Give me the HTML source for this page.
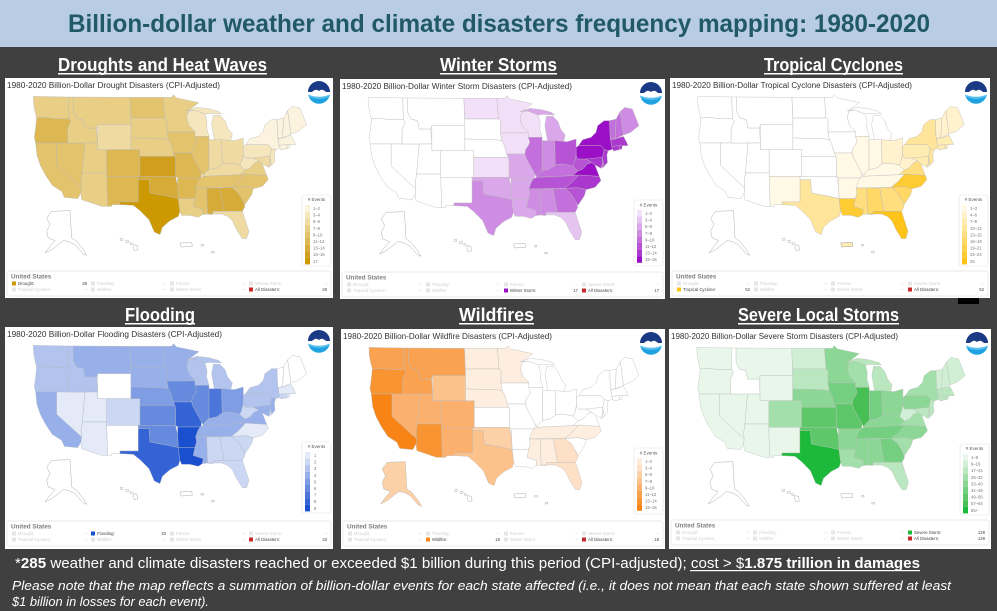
<!DOCTYPE html>
<html><head><meta charset="utf-8"><style>
html,body{margin:0;padding:0;background:#404040;}
svg{display:block;}
text{font-family:"Liberation Sans",Arial,sans-serif;}
</style></head><body>
<svg width="997" height="611" viewBox="0 0 997 611" xmlns="http://www.w3.org/2000/svg">
<defs>
<path id="WA" d="M85,55 L190,57 L192,122 L150,122 L120,118 L95,120 L90,100 L86,80 Z"/>
<path id="OR" d="M95,120 L120,118 L150,122 L192,122 L198,130 L188,150 L188,195 L92,195 L88,178 L92,150 Z"/>
<path id="CA" d="M92,195 L155,195 L155,262 L230,330 L228,345 L218,362 L178,358 L170,340 L142,322 L122,292 L106,262 L96,232 Z"/>
<path id="NV" d="M155,195 L240,195 L232,285 L228,312 L230,330 L155,262 Z"/>
<path id="ID" d="M190,57 L205,57 L205,100 L215,120 L235,125 L240,150 L275,150 L278,195 L188,195 L188,150 L198,130 L192,122 Z"/>
<path id="MT" d="M205,57 L375,58 L378,140 L278,140 L275,150 L240,150 L235,125 L215,120 L205,100 Z"/>
<path id="WY" d="M278,140 L378,140 L378,215 L278,215 Z"/>
<path id="UT" d="M240,195 L278,195 L278,215 L305,215 L305,285 L232,285 Z"/>
<path id="AZ" d="M232,285 L305,285 L308,385 L290,385 L230,365 L228,345 L230,330 L228,312 Z"/>
<path id="CO" d="M305,215 L405,215 L405,295 L305,295 Z"/>
<path id="NM" d="M305,295 L400,295 L400,372 L345,372 L345,380 L320,380 L320,385 L308,385 Z"/>
<path id="ND" d="M375,58 L475,58 L480,120 L378,120 Z"/>
<path id="SD" d="M378,120 L480,120 L486,125 L486,162 L490,185 L470,182 L378,180 Z"/>
<path id="NE" d="M378,180 L470,182 L490,185 L498,200 L505,225 L510,235 L405,235 L405,215 L378,215 Z"/>
<path id="KS" d="M405,235 L510,235 L512,245 L512,295 L405,295 Z"/>
<path id="OK" d="M400,295 L512,295 L515,310 L518,320 L520,362 L490,355 L460,350 L435,345 L432,305 L400,305 Z"/>
<path id="TX" d="M400,305 L432,305 L435,345 L460,350 L490,355 L520,362 L522,380 L525,400 L520,415 L495,428 L472,448 L465,470 L448,462 L432,425 L405,398 L385,382 L345,380 L345,372 L400,372 Z"/>
<path id="MN" d="M475,58 L500,58 L505,50 L515,60 L545,66 L582,74 L552,96 L545,118 L552,142 L570,160 L570,162 L486,162 L486,125 L480,120 Z"/>
<path id="IA" d="M486,162 L570,162 L575,175 L575,190 L570,200 L562,212 L560,225 L505,225 L498,200 L490,185 Z"/>
<path id="MO" d="M505,225 L560,225 L565,240 L575,258 L590,285 L588,300 L518,300 L512,295 L512,245 L510,235 Z"/>
<path id="AR" d="M518,300 L588,300 L582,318 L575,345 L570,362 L520,362 L518,320 Z"/>
<path id="LA" d="M520,362 L570,362 L565,385 L595,395 L592,410 L580,418 L555,412 L530,412 L525,400 L522,380 Z"/>
<path id="WI" d="M545,118 L550,100 L568,96 L600,108 L606,130 L605,150 L612,175 L570,175 L570,160 L552,142 Z"/>
<path id="MIU" d="M545,98 L575,88 L610,92 L640,100 L650,108 L615,106 L600,108 L568,96 Z"/>
<path id="MIL" d="M625,112 L645,112 L660,128 L668,150 L682,168 L678,185 L662,192 L630,195 L625,168 L620,140 Z"/>
<path id="IL" d="M570,175 L612,175 L612,275 L600,285 L595,295 L590,285 L575,258 L565,240 L560,225 L562,212 L570,200 L575,190 Z"/>
<path id="IN" d="M612,185 L650,185 L652,258 L635,270 L612,275 Z"/>
<path id="OH" d="M650,185 L688,188 L715,180 L715,230 L710,250 L705,262 L690,258 L670,255 L652,258 Z"/>
<path id="KY" d="M595,295 L600,285 L612,275 L635,270 L652,258 L670,255 L690,258 L705,262 L720,276 L705,290 Z"/>
<path id="TN" d="M585,300 L595,295 L705,290 L722,288 L700,312 L690,320 L680,328 L572,330 L578,312 Z"/>
<path id="MS" d="M572,330 L605,330 L608,408 L592,410 L595,395 L565,385 L570,362 L575,345 Z"/>
<path id="AL" d="M605,330 L645,330 L650,360 L658,400 L625,400 L622,410 L608,408 Z"/>
<path id="GA" d="M645,330 L680,328 L700,345 L715,370 L720,385 L712,400 L658,400 L650,360 Z"/>
<path id="FL" d="M608,408 L622,410 L625,400 L658,400 L712,400 L722,430 L732,460 L725,482 L712,482 L695,455 L682,428 L668,415 L650,408 Z"/>
<path id="SC" d="M680,328 L720,326 L745,332 L740,350 L720,380 L715,370 L700,345 Z"/>
<path id="NC" d="M722,288 L785,292 L790,305 L772,325 L745,332 L720,326 L680,328 L690,320 L700,312 Z"/>
<path id="VA" d="M705,290 L720,276 L735,270 L748,255 L762,250 L772,258 L785,292 L722,288 Z"/>
<path id="WV" d="M705,262 L710,250 L715,230 L720,240 L745,240 L762,250 L748,255 L735,270 L720,276 Z"/>
<path id="PA" d="M715,205 L722,200 L790,200 L800,212 L795,235 L760,240 L745,240 L720,240 L715,230 Z"/>
<path id="NY" d="M722,200 L735,182 L760,175 L775,160 L780,140 L800,125 L816,125 L818,175 L822,200 L828,210 L812,215 L800,212 L790,200 Z"/>
<path id="NJ" d="M800,212 L812,215 L808,228 L810,250 L800,262 L795,240 L795,235 Z"/>
<path id="MD" d="M745,240 L795,235 L795,252 L790,268 L780,262 L772,258 L762,250 Z"/>
<path id="DE" d="M795,240 L800,262 L792,268 L795,252 Z"/>
<path id="VT" d="M816,125 L836,120 L833,178 L820,182 L818,175 Z"/>
<path id="NH" d="M836,120 L848,98 L858,168 L833,180 Z"/>
<path id="ME" d="M848,98 L862,85 L885,90 L905,140 L880,160 L858,168 Z"/>
<path id="MA" d="M820,182 L833,180 L858,172 L868,190 L872,200 L855,200 L822,202 Z"/>
<path id="CT" d="M822,202 L845,200 L847,212 L828,216 Z"/>
<path id="RI" d="M845,200 L855,200 L853,210 L847,212 Z"/>
<path id="AK" d="M140,400 L195,398 L200,480 L215,490 L235,515 L245,532 L235,528 L210,500 L190,490 L175,488 L160,500 L140,515 L120,525 L135,505 L150,488 L130,480 L125,460 L135,440 L125,420 Z"/>
<g id="EXT" fill="#fff">
<path d="M345,482 L352,480 L354,486 L347,488 Z"/>
<path d="M362,488 L370,487 L371,493 L363,494 Z"/>
<path d="M375,494 L382,495 L381,500 L375,499 Z"/>
<path d="M385,500 L396,502 L398,516 L388,518 L384,510 Z"/>
<path d="M525,495 L560,493 L562,505 L528,507 Z"/>
<path d="M588,500 L596,500 L596,504 L588,504 Z"/>
<path d="M620,520 L628,520 L628,525 L620,525 Z"/>
</g>
<g id="noaa">
<circle r="11" fill="#fff"/>
<path d="M-11,-1 A11,11 0 0 1 11,-1 L7,-1 Q3,-5 0,-2 Q-3,-5 -7,-1 Z" fill="#1b3a86"/>
<path d="M-10.5,3 Q0,8 10.5,3 A11,11 0 0 1 -10.5,3 Z" fill="#1ea2e2"/>
<path d="M-10.8,1.5 Q0,6 10.8,1.5 L10.6,3.2 Q0,8.5 -10.6,3.2 Z" fill="#58bfee"/>
</g>
</defs>

<!-- title bar -->
<rect x="0" y="0" width="997" height="47" fill="#b8cce4"/>
<text x="68" y="32" font-size="25" font-weight="bold" fill="#215968" textLength="862" lengthAdjust="spacingAndGlyphs">Billion-dollar weather and climate disasters frequency mapping: 1980-2020</text>

<!-- panel titles -->
<g fill="#fff" font-weight="bold" font-size="18">
<text x="58" y="71" textLength="209" lengthAdjust="spacingAndGlyphs">Droughts and Heat Waves</text>
<rect x="58" y="73" width="209" height="1.5"/>
<text x="440" y="71" textLength="117" lengthAdjust="spacingAndGlyphs">Winter Storms</text>
<rect x="440" y="73" width="117" height="1.5"/>
<text x="764" y="71" textLength="139" lengthAdjust="spacingAndGlyphs">Tropical Cyclones</text>
<rect x="764" y="73" width="139" height="1.5"/>
<text x="125" y="321" textLength="70" lengthAdjust="spacingAndGlyphs">Flooding</text>
<rect x="125" y="323" width="70" height="1.5"/>
<text x="459" y="321" textLength="75" lengthAdjust="spacingAndGlyphs">Wildfires</text>
<rect x="459" y="323" width="75" height="1.5"/>
<text x="738" y="321" textLength="161" lengthAdjust="spacingAndGlyphs">Severe Local Storms</text>
<rect x="738" y="323" width="161" height="1.5"/>
</g>

<rect x="958" y="298" width="21" height="6" fill="#000"/>

<!-- ============ PANEL 1: DROUGHT ============ -->
<g transform="translate(5,78)">
<rect x="0" y="0" width="328" height="220" fill="#fff"/>
<text x="2" y="10" font-size="8" fill="#333" textLength="213" lengthAdjust="spacingAndGlyphs">1980-2020 Billion-Dollar Drought Disasters (CPI-Adjusted)</text>
<use href="#noaa" x="314" y="15"/>
<g transform="scale(0.3333)" stroke="#b9b9b9" stroke-width="1.2">
<use href="#WA" fill="#e9cf86"/><use href="#OR" fill="#ddb752"/><use href="#CA" fill="#e3c36c"/><use href="#NV" fill="#e3c36c"/>
<use href="#ID" fill="#e9cf86"/><use href="#MT" fill="#e9cf86"/><use href="#WY" fill="#efdba2"/><use href="#UT" fill="#e9cf86"/>
<use href="#AZ" fill="#e9cf86"/><use href="#CO" fill="#ddb752"/><use href="#NM" fill="#ddb752"/><use href="#ND" fill="#e3c36c"/>
<use href="#SD" fill="#e9cf86"/><use href="#NE" fill="#e9cf86"/><use href="#KS" fill="#d19f1e"/><use href="#OK" fill="#d7ab38"/>
<use href="#TX" fill="#cc9900"/><use href="#MN" fill="#e9cf86"/><use href="#IA" fill="#e3c36c"/><use href="#MO" fill="#ddb752"/>
<use href="#AR" fill="#ddb752"/><use href="#LA" fill="#e9cf86"/><use href="#WI" fill="#f5e6bd"/><use href="#MIU" fill="#f5e6bd"/>
<use href="#MIL" fill="#f5e6bd"/><use href="#IL" fill="#e3c36c"/><use href="#IN" fill="#efdba2"/><use href="#OH" fill="#efdba2"/>
<use href="#KY" fill="#efdba2"/><use href="#TN" fill="#e3c36c"/><use href="#MS" fill="#e3c36c"/><use href="#AL" fill="#d7ab38"/>
<use href="#GA" fill="#d7ab38"/><use href="#FL" fill="#efdba2"/><use href="#SC" fill="#e3c36c"/><use href="#NC" fill="#e3c36c"/>
<use href="#VA" fill="#e9cf86"/><use href="#WV" fill="#f5e6bd"/><use href="#PA" fill="#f5e6bd"/><use href="#NY" fill="#fbf3de"/>
<use href="#NJ" fill="#f5e6bd"/><use href="#MD" fill="#efdba2"/><use href="#DE" fill="#f5e6bd"/><use href="#VT" fill="#fbf3de"/>
<use href="#NH" fill="#fbf3de"/><use href="#ME" fill="#fbf3de"/><use href="#MA" fill="#fbf3de"/><use href="#CT" fill="#fbf3de"/><use href="#RI" fill="#fbf3de"/>
<use href="#AK" fill="#fff" stroke="#999"/><use href="#EXT" stroke="#999"/>
</g>
<g>
<rect x="297" y="117" width="29" height="71" rx="2" fill="#fff" stroke="#e2e2e2" stroke-width="0.6"/>
<text x="311.5" y="123" font-size="4.5" fill="#555" text-anchor="middle"># Events</text>
<rect x="300" y="127" width="5" height="6.6" fill="#fbf3de"/><rect x="300" y="133.6" width="5" height="6.6" fill="#f5e6bd"/>
<rect x="300" y="140.2" width="5" height="6.6" fill="#efdba2"/><rect x="300" y="146.8" width="5" height="6.6" fill="#e9cf86"/>
<rect x="300" y="153.4" width="5" height="6.6" fill="#e3c36c"/><rect x="300" y="160" width="5" height="6.6" fill="#ddb752"/>
<rect x="300" y="166.6" width="5" height="6.6" fill="#d7ab38"/><rect x="300" y="173.2" width="5" height="6.6" fill="#d19f1e"/>
<rect x="300" y="179.8" width="5" height="6.6" fill="#cc9900"/>
<g font-size="4.2" fill="#777">
<text x="308" y="132">1–2</text><text x="308" y="138.6">3–4</text><text x="308" y="145.2">5–6</text><text x="308" y="151.8">7–8</text>
<text x="308" y="158.4">9–10</text><text x="308" y="165">11–12</text><text x="308" y="171.6">13–14</text><text x="308" y="178.2">15–16</text><text x="308" y="184.8">17</text>
</g>
</g>
<rect x="2" y="193" width="324" height="25" rx="2" fill="#fff" stroke="#e4e4e4" stroke-width="0.7"/>
<text x="6" y="200.5" font-size="6.3" font-weight="bold" fill="#808080">United States</text>
<g font-size="4.3">
<rect x="7" y="203.5" width="4" height="4" fill="#cc9900"/><text x="13" y="207" fill="#444">Drought:</text><text x="82" y="207" fill="#444" text-anchor="end">28</text>
<rect x="86" y="203.5" width="4" height="4" fill="#e6e6e6"/><text x="92" y="207" fill="#cfcfcf">Flooding:</text><text x="161" y="207" fill="#bbb" text-anchor="end">--</text>
<rect x="165" y="203.5" width="4" height="4" fill="#e6e6e6"/><text x="171" y="207" fill="#cfcfcf">Freeze:</text><text x="240" y="207" fill="#bbb" text-anchor="end">--</text>
<rect x="244" y="203.5" width="4" height="4" fill="#e6e6e6"/><text x="250" y="207" fill="#cfcfcf">Severe Storm:</text><text x="322" y="207" fill="#bbb" text-anchor="end">--</text>
<rect x="7" y="209.5" width="4" height="4" fill="#e6e6e6"/><text x="13" y="213" fill="#cfcfcf">Tropical Cyclone:</text><text x="82" y="213" fill="#bbb" text-anchor="end">--</text>
<rect x="86" y="209.5" width="4" height="4" fill="#e6e6e6"/><text x="92" y="213" fill="#cfcfcf">Wildfire:</text><text x="161" y="213" fill="#bbb" text-anchor="end">--</text>
<rect x="165" y="209.5" width="4" height="4" fill="#e6e6e6"/><text x="171" y="213" fill="#cfcfcf">Winter Storm:</text><text x="240" y="213" fill="#bbb" text-anchor="end">--</text>
<rect x="244" y="209.5" width="4" height="4" fill="#c62828"/><text x="250" y="213" fill="#444">All Disasters:</text><text x="322" y="213" fill="#444" text-anchor="end">28</text>
</g>
</g>

<!-- ============ PANEL 2: WINTER ============ -->
<g transform="translate(340,79)">
<rect x="0" y="0" width="325" height="220" fill="#fff"/>
<text x="2" y="10" font-size="8" fill="#333" textLength="230" lengthAdjust="spacingAndGlyphs">1980-2020 Billion-Dollar Winter Storm Disasters (CPI-Adjusted)</text>
<use href="#noaa" x="311" y="15"/>
<g transform="scale(0.3303,0.3333)" stroke="#b9b9b9" stroke-width="1.2">
<use href="#WA" fill="#fff"/><use href="#OR" fill="#fff"/><use href="#CA" fill="#fff"/><use href="#NV" fill="#fff"/>
<use href="#ID" fill="#fff"/><use href="#MT" fill="#fff"/><use href="#WY" fill="#fff"/><use href="#UT" fill="#fff"/>
<use href="#AZ" fill="#fff"/><use href="#CO" fill="#fff"/><use href="#NM" fill="#fff"/><use href="#ND" fill="#f2e0f8"/>
<use href="#SD" fill="#fff"/><use href="#NE" fill="#fff"/><use href="#KS" fill="#f2e0f8"/><use href="#OK" fill="#daa8ea"/>
<use href="#TX" fill="#cf8ce3"/><use href="#MN" fill="#f2e0f8"/><use href="#IA" fill="#f2e0f8"/><use href="#MO" fill="#daa8ea"/>
<use href="#AR" fill="#daa8ea"/><use href="#LA" fill="#daa8ea"/><use href="#WI" fill="#f2e0f8"/><use href="#MIU" fill="#daa8ea"/>
<use href="#MIL" fill="#daa8ea"/><use href="#IL" fill="#c370dc"/><use href="#IN" fill="#cf8ce3"/><use href="#OH" fill="#b754d5"/>
<use href="#KY" fill="#c370dc"/><use href="#TN" fill="#b754d5"/><use href="#MS" fill="#cf8ce3"/><use href="#AL" fill="#cf8ce3"/>
<use href="#GA" fill="#c370dc"/><use href="#FL" fill="#e6c4f1"/><use href="#SC" fill="#b754d5"/><use href="#NC" fill="#ab38ce"/>
<use href="#VA" fill="#9b10c6"/><use href="#WV" fill="#b754d5"/><use href="#PA" fill="#9b10c6"/><use href="#NY" fill="#9b10c6"/>
<use href="#NJ" fill="#ab38ce"/><use href="#MD" fill="#ab38ce"/><use href="#DE" fill="#b754d5"/><use href="#VT" fill="#c370dc"/>
<use href="#NH" fill="#c370dc"/><use href="#ME" fill="#cf8ce3"/><use href="#MA" fill="#ab38ce"/><use href="#CT" fill="#ab38ce"/><use href="#RI" fill="#ab38ce"/>
<use href="#AK" fill="#fff" stroke="#999"/><use href="#EXT" stroke="#999"/>
</g>
<g>
<rect x="294" y="121" width="29" height="66" rx="2" fill="#fff" stroke="#e2e2e2" stroke-width="0.6"/>
<text x="308.5" y="127.5" font-size="4.5" fill="#555" text-anchor="middle"># Events</text>
<rect x="297" y="131" width="5" height="6.6" fill="#f2e0f8"/><rect x="297" y="137.6" width="5" height="6.6" fill="#e6c4f1"/>
<rect x="297" y="144.2" width="5" height="6.6" fill="#daa8ea"/><rect x="297" y="150.8" width="5" height="6.6" fill="#cf8ce3"/>
<rect x="297" y="157.4" width="5" height="6.6" fill="#c370dc"/><rect x="297" y="164" width="5" height="6.6" fill="#b754d5"/>
<rect x="297" y="170.6" width="5" height="6.6" fill="#ab38ce"/><rect x="297" y="177.2" width="5" height="6.6" fill="#9b10c6"/>
<g font-size="4.2" fill="#777">
<text x="305" y="136">1–2</text><text x="305" y="142.6">3–4</text><text x="305" y="149.2">5–6</text><text x="305" y="155.8">7–8</text>
<text x="305" y="162.4">9–10</text><text x="305" y="169">11–12</text><text x="305" y="175.6">13–14</text><text x="305" y="182.2">15–16</text>
</g>
</g>
<rect x="2" y="193" width="321" height="25" rx="2" fill="#fff" stroke="#e4e4e4" stroke-width="0.7"/>
<text x="6" y="200.5" font-size="6.3" font-weight="bold" fill="#808080">United States</text>
<g font-size="4.3">
<rect x="7" y="203.5" width="4" height="4" fill="#e6e6e6"/><text x="13" y="207" fill="#cfcfcf">Drought:</text><text x="82" y="207" fill="#bbb" text-anchor="end">--</text>
<rect x="86" y="203.5" width="4" height="4" fill="#e6e6e6"/><text x="92" y="207" fill="#cfcfcf">Flooding:</text><text x="160" y="207" fill="#bbb" text-anchor="end">--</text>
<rect x="164" y="203.5" width="4" height="4" fill="#e6e6e6"/><text x="170" y="207" fill="#cfcfcf">Freeze:</text><text x="238" y="207" fill="#bbb" text-anchor="end">--</text>
<rect x="242" y="203.5" width="4" height="4" fill="#e6e6e6"/><text x="248" y="207" fill="#cfcfcf">Severe Storm:</text><text x="319" y="207" fill="#bbb" text-anchor="end">--</text>
<rect x="7" y="209.5" width="4" height="4" fill="#e6e6e6"/><text x="13" y="213" fill="#cfcfcf">Tropical Cyclone:</text><text x="82" y="213" fill="#bbb" text-anchor="end">--</text>
<rect x="86" y="209.5" width="4" height="4" fill="#e6e6e6"/><text x="92" y="213" fill="#cfcfcf">Wildfire:</text><text x="160" y="213" fill="#bbb" text-anchor="end">--</text>
<rect x="164" y="209.5" width="4" height="4" fill="#9b10c6"/><text x="170" y="213" fill="#444">Winter Storm:</text><text x="238" y="213" fill="#444" text-anchor="end">17</text>
<rect x="242" y="209.5" width="4" height="4" fill="#c62828"/><text x="248" y="213" fill="#444">All Disasters:</text><text x="319" y="213" fill="#444" text-anchor="end">17</text>
</g>
</g>

<!-- ============ PANEL 3: TROPICAL ============ -->
<g transform="translate(670,78)">
<rect x="0" y="0" width="320" height="220" fill="#fff"/>
<text x="2" y="10" font-size="8" fill="#333" textLength="240" lengthAdjust="spacingAndGlyphs">1980-2020 Billion-Dollar Tropical Cyclone Disasters (CPI-Adjusted)</text>
<use href="#noaa" x="306" y="15"/>
<g transform="scale(0.3252,0.3333)" stroke="#b9b9b9" stroke-width="1.2">
<use href="#WA" fill="#fff"/><use href="#OR" fill="#fff"/><use href="#CA" fill="#fff"/><use href="#NV" fill="#fff"/>
<use href="#ID" fill="#fff"/><use href="#MT" fill="#fff"/><use href="#WY" fill="#fff"/><use href="#UT" fill="#fff"/>
<use href="#AZ" fill="#fff"/><use href="#CO" fill="#fff"/><use href="#NM" fill="#fff9e6"/><use href="#ND" fill="#fff"/>
<use href="#SD" fill="#fff"/><use href="#NE" fill="#fff"/><use href="#KS" fill="#fff"/><use href="#OK" fill="#fff"/>
<use href="#TX" fill="#ffe599"/><use href="#MN" fill="#fff"/><use href="#IA" fill="#fff"/><use href="#MO" fill="#fff9e6"/>
<use href="#AR" fill="#fff9e6"/><use href="#LA" fill="#ffcb33"/><use href="#WI" fill="#fff"/><use href="#MIU" fill="#fff"/>
<use href="#MIL" fill="#fff"/><use href="#IL" fill="#fff9e6"/><use href="#IN" fill="#fff9e6"/><use href="#OH" fill="#fff2cc"/>
<use href="#KY" fill="#fff9e6"/><use href="#TN" fill="#fff9e6"/><use href="#MS" fill="#ffde80"/><use href="#AL" fill="#ffd866"/>
<use href="#GA" fill="#ffde80"/><use href="#FL" fill="#ffc41a"/><use href="#SC" fill="#ffd866"/><use href="#NC" fill="#ffcb33"/>
<use href="#VA" fill="#ffde80"/><use href="#WV" fill="#fff2cc"/><use href="#PA" fill="#ffecb3"/><use href="#NY" fill="#ffe599"/>
<use href="#NJ" fill="#ffe599"/><use href="#MD" fill="#ffecb3"/><use href="#DE" fill="#ffecb3"/><use href="#VT" fill="#fff2cc"/>
<use href="#NH" fill="#fff2cc"/><use href="#ME" fill="#fff2cc"/><use href="#MA" fill="#ffecb3"/><use href="#CT" fill="#ffecb3"/><use href="#RI" fill="#ffecb3"/>
<use href="#AK" fill="#fff" stroke="#999"/><use href="#EXT" stroke="#999"/>
<path d="M525,495 L560,493 L562,505 L528,507 Z" fill="#ffecb3" stroke="#999"/>
</g>
<g>
<rect x="289" y="117" width="29" height="71" rx="2" fill="#fff" stroke="#e2e2e2" stroke-width="0.6"/>
<text x="303.5" y="123" font-size="4.5" fill="#555" text-anchor="middle"># Events</text>
<rect x="292" y="127" width="5" height="6.6" fill="#fff9e6"/><rect x="292" y="133.6" width="5" height="6.6" fill="#fff2cc"/>
<rect x="292" y="140.2" width="5" height="6.6" fill="#ffecb3"/><rect x="292" y="146.8" width="5" height="6.6" fill="#ffe599"/>
<rect x="292" y="153.4" width="5" height="6.6" fill="#ffde80"/><rect x="292" y="160" width="5" height="6.6" fill="#ffd866"/>
<rect x="292" y="166.6" width="5" height="6.6" fill="#ffd14d"/><rect x="292" y="173.2" width="5" height="6.6" fill="#ffcb33"/>
<rect x="292" y="179.8" width="5" height="6.6" fill="#ffc41a"/>
<g font-size="4.2" fill="#777">
<text x="300" y="132">1–3</text><text x="300" y="138.6">4–6</text><text x="300" y="145.2">7–9</text><text x="300" y="151.8">10–12</text>
<text x="300" y="158.4">13–15</text><text x="300" y="165">16–18</text><text x="300" y="171.6">19–21</text><text x="300" y="178.2">22–24</text><text x="300" y="184.8">25</text>
</g>
</g>
<rect x="2" y="193" width="316" height="25" rx="2" fill="#fff" stroke="#e4e4e4" stroke-width="0.7"/>
<text x="6" y="200.5" font-size="6.3" font-weight="bold" fill="#808080">United States</text>
<g font-size="4.3">
<rect x="7" y="203.5" width="4" height="4" fill="#e6e6e6"/><text x="13" y="207" fill="#cfcfcf">Drought:</text><text x="80" y="207" fill="#bbb" text-anchor="end">--</text>
<rect x="84" y="203.5" width="4" height="4" fill="#e6e6e6"/><text x="90" y="207" fill="#cfcfcf">Flooding:</text><text x="157" y="207" fill="#bbb" text-anchor="end">--</text>
<rect x="161" y="203.5" width="4" height="4" fill="#e6e6e6"/><text x="167" y="207" fill="#cfcfcf">Freeze:</text><text x="234" y="207" fill="#bbb" text-anchor="end">--</text>
<rect x="238" y="203.5" width="4" height="4" fill="#e6e6e6"/><text x="244" y="207" fill="#cfcfcf">Severe Storm:</text><text x="314" y="207" fill="#bbb" text-anchor="end">--</text>
<rect x="7" y="209.5" width="4" height="4" fill="#ffc41a"/><text x="13" y="213" fill="#444">Tropical Cyclone:</text><text x="80" y="213" fill="#444" text-anchor="end">52</text>
<rect x="84" y="209.5" width="4" height="4" fill="#e6e6e6"/><text x="90" y="213" fill="#cfcfcf">Wildfire:</text><text x="157" y="213" fill="#bbb" text-anchor="end">--</text>
<rect x="161" y="209.5" width="4" height="4" fill="#e6e6e6"/><text x="167" y="213" fill="#cfcfcf">Winter Storm:</text><text x="234" y="213" fill="#bbb" text-anchor="end">--</text>
<rect x="238" y="209.5" width="4" height="4" fill="#c62828"/><text x="244" y="213" fill="#444">All Disasters:</text><text x="314" y="213" fill="#444" text-anchor="end">52</text>
</g>
</g>

<!-- ============ PANEL 4: FLOODING ============ -->
<g transform="translate(5,327)">
<rect x="0" y="0" width="328" height="222" fill="#fff"/>
<text x="2" y="10" font-size="8" fill="#333" textLength="215" lengthAdjust="spacingAndGlyphs">1980-2020 Billion-Dollar Flooding Disasters (CPI-Adjusted)</text>
<use href="#noaa" x="314" y="15"/>
<g transform="scale(0.3333)" stroke="#b0b6c4" stroke-width="1.2">
<use href="#WA" fill="#b2c4ee"/><use href="#OR" fill="#b2c4ee"/><use href="#CA" fill="#98b0e9"/><use href="#NV" fill="#e4eaf8"/>
<use href="#ID" fill="#b2c4ee"/><use href="#MT" fill="#98b0e9"/><use href="#WY" fill="#fff"/><use href="#UT" fill="#e4eaf8"/>
<use href="#AZ" fill="#e4eaf8"/><use href="#CO" fill="#cbd7f3"/><use href="#NM" fill="#fff"/><use href="#ND" fill="#98b0e9"/>
<use href="#SD" fill="#98b0e9"/><use href="#NE" fill="#7f9de4"/><use href="#KS" fill="#668ade"/><use href="#OK" fill="#668ade"/>
<use href="#TX" fill="#3363d4"/><use href="#MN" fill="#98b0e9"/><use href="#IA" fill="#668ade"/><use href="#MO" fill="#3363d4"/>
<use href="#AR" fill="#1a50cf"/><use href="#LA" fill="#1a50cf"/><use href="#WI" fill="#b2c4ee"/><use href="#MIU" fill="#b2c4ee"/>
<use href="#MIL" fill="#b2c4ee"/><use href="#IL" fill="#668ade"/><use href="#IN" fill="#4c76d9"/><use href="#OH" fill="#7f9de4"/>
<use href="#KY" fill="#98b0e9"/><use href="#TN" fill="#98b0e9"/><use href="#MS" fill="#98b0e9"/><use href="#AL" fill="#cbd7f3"/>
<use href="#GA" fill="#cbd7f3"/><use href="#FL" fill="#cbd7f3"/><use href="#SC" fill="#cbd7f3"/><use href="#NC" fill="#e4eaf8"/>
<use href="#VA" fill="#98b0e9"/><use href="#WV" fill="#cbd7f3"/><use href="#PA" fill="#b2c4ee"/><use href="#NY" fill="#b2c4ee"/>
<use href="#NJ" fill="#98b0e9"/><use href="#MD" fill="#98b0e9"/><use href="#DE" fill="#cbd7f3"/><use href="#VT" fill="#fff"/>
<use href="#NH" fill="#fff"/><use href="#ME" fill="#fff"/><use href="#MA" fill="#e4eaf8"/><use href="#CT" fill="#cbd7f3"/><use href="#RI" fill="#e4eaf8"/>
<use href="#AK" fill="#fff" stroke="#999"/><use href="#EXT" stroke="#999"/>
</g>
<g>
<rect x="297" y="115" width="29" height="71" rx="2" fill="#fff" stroke="#e2e2e2" stroke-width="0.6"/>
<text x="311.5" y="121" font-size="4.5" fill="#555" text-anchor="middle"># Events</text>
<rect x="300" y="125" width="5" height="6.6" fill="#e4eaf8"/><rect x="300" y="131.6" width="5" height="6.6" fill="#cbd7f3"/>
<rect x="300" y="138.2" width="5" height="6.6" fill="#b2c4ee"/><rect x="300" y="144.8" width="5" height="6.6" fill="#98b0e9"/>
<rect x="300" y="151.4" width="5" height="6.6" fill="#7f9de4"/><rect x="300" y="158" width="5" height="6.6" fill="#668ade"/>
<rect x="300" y="164.6" width="5" height="6.6" fill="#4c76d9"/><rect x="300" y="171.2" width="5" height="6.6" fill="#3363d4"/>
<rect x="300" y="177.8" width="5" height="6.6" fill="#1a50cf"/>
<g font-size="4.2" fill="#777">
<text x="309" y="130">1</text><text x="309" y="136.6">2</text><text x="309" y="143.2">3</text><text x="309" y="149.8">4</text>
<text x="309" y="156.4">5</text><text x="309" y="163">6</text><text x="309" y="169.6">7</text><text x="309" y="176.2">8</text><text x="309" y="182.8">9</text>
</g>
</g>
<rect x="2" y="194" width="324" height="25" rx="2" fill="#fff" stroke="#e4e4e4" stroke-width="0.7"/>
<text x="6" y="201.5" font-size="6.3" font-weight="bold" fill="#808080">United States</text>
<g font-size="4.3">
<rect x="7" y="204.5" width="4" height="4" fill="#e6e6e6"/><text x="13" y="208" fill="#cfcfcf">Drought:</text><text x="82" y="208" fill="#bbb" text-anchor="end">--</text>
<rect x="86" y="204.5" width="4" height="4" fill="#1a50cf"/><text x="92" y="208" fill="#444">Flooding:</text><text x="161" y="208" fill="#444" text-anchor="end">33</text>
<rect x="165" y="204.5" width="4" height="4" fill="#e6e6e6"/><text x="171" y="208" fill="#cfcfcf">Freeze:</text><text x="240" y="208" fill="#bbb" text-anchor="end">--</text>
<rect x="244" y="204.5" width="4" height="4" fill="#e6e6e6"/><text x="250" y="208" fill="#cfcfcf">Severe Storm:</text><text x="322" y="208" fill="#bbb" text-anchor="end">--</text>
<rect x="7" y="210.5" width="4" height="4" fill="#e6e6e6"/><text x="13" y="214" fill="#cfcfcf">Tropical Cyclone:</text><text x="82" y="214" fill="#bbb" text-anchor="end">--</text>
<rect x="86" y="210.5" width="4" height="4" fill="#e6e6e6"/><text x="92" y="214" fill="#cfcfcf">Wildfire:</text><text x="161" y="214" fill="#bbb" text-anchor="end">--</text>
<rect x="165" y="210.5" width="4" height="4" fill="#e6e6e6"/><text x="171" y="214" fill="#cfcfcf">Winter Storm:</text><text x="240" y="214" fill="#bbb" text-anchor="end">--</text>
<rect x="244" y="210.5" width="4" height="4" fill="#c62828"/><text x="250" y="214" fill="#444">All Disasters:</text><text x="322" y="214" fill="#444" text-anchor="end">33</text>
</g>
</g>

<!-- ============ PANEL 5: WILDFIRE ============ -->
<g transform="translate(341,329)">
<rect x="0" y="0" width="324" height="220" fill="#fff"/>
<text x="2" y="10" font-size="8" fill="#333" textLength="209" lengthAdjust="spacingAndGlyphs">1980-2020 Billion-Dollar Wildfire Disasters (CPI-Adjusted)</text>
<use href="#noaa" x="310" y="15"/>
<g transform="scale(0.3293,0.3333)" stroke="#bcbcbc" stroke-width="1.2">
<use href="#WA" fill="#faa250"/><use href="#OR" fill="#f99433"/><use href="#CA" fill="#f88416"/><use href="#NV" fill="#fbb16d"/>
<use href="#ID" fill="#faa250"/><use href="#MT" fill="#faa250"/><use href="#WY" fill="#fbc28b"/><use href="#UT" fill="#fbb16d"/>
<use href="#AZ" fill="#f99433"/><use href="#CO" fill="#fbb16d"/><use href="#NM" fill="#fbb16d"/><use href="#ND" fill="#fdeedf"/>
<use href="#SD" fill="#fdeedf"/><use href="#NE" fill="#fdeedf"/><use href="#KS" fill="#fff"/><use href="#OK" fill="#fcd1a8"/>
<use href="#TX" fill="#fbc28b"/><use href="#MN" fill="#fdeedf"/><use href="#IA" fill="#fff"/><use href="#MO" fill="#fff"/>
<use href="#AR" fill="#fff"/><use href="#LA" fill="#fff"/><use href="#WI" fill="#fff"/><use href="#MIU" fill="#fff"/>
<use href="#MIL" fill="#fff"/><use href="#IL" fill="#fff"/><use href="#IN" fill="#fff"/><use href="#OH" fill="#fff"/>
<use href="#KY" fill="#fff"/><use href="#TN" fill="#fdeedf"/><use href="#MS" fill="#fdeedf"/><use href="#AL" fill="#fdeedf"/>
<use href="#GA" fill="#fde0c5"/><use href="#FL" fill="#fde0c5"/><use href="#SC" fill="#fff"/><use href="#NC" fill="#fdeedf"/>
<use href="#VA" fill="#fff"/><use href="#WV" fill="#fff"/><use href="#PA" fill="#fff"/><use href="#NY" fill="#fff"/>
<use href="#NJ" fill="#fff"/><use href="#MD" fill="#fff"/><use href="#DE" fill="#fff"/><use href="#VT" fill="#fff"/>
<use href="#NH" fill="#fff"/><use href="#ME" fill="#fff"/><use href="#MA" fill="#fff"/><use href="#CT" fill="#fff"/><use href="#RI" fill="#fff"/>
<use href="#AK" fill="#fcd1a8" stroke="#aaa"/><use href="#EXT" stroke="#999"/>
</g>
<g>
<rect x="293" y="119" width="29" height="66" rx="2" fill="#fff" stroke="#e2e2e2" stroke-width="0.6"/>
<text x="307.5" y="125.5" font-size="4.5" fill="#555" text-anchor="middle"># Events</text>
<rect x="296" y="129" width="5" height="6.6" fill="#fdeedf"/><rect x="296" y="135.6" width="5" height="6.6" fill="#fde0c5"/>
<rect x="296" y="142.2" width="5" height="6.6" fill="#fcd1a8"/><rect x="296" y="148.8" width="5" height="6.6" fill="#fbc28b"/>
<rect x="296" y="155.4" width="5" height="6.6" fill="#fbb16d"/><rect x="296" y="162" width="5" height="6.6" fill="#faa250"/>
<rect x="296" y="168.6" width="5" height="6.6" fill="#f99433"/><rect x="296" y="175.2" width="5" height="6.6" fill="#f88416"/>
<g font-size="4.2" fill="#777">
<text x="304" y="134">1–2</text><text x="304" y="140.6">3–4</text><text x="304" y="147.2">5–6</text><text x="304" y="153.8">7–8</text>
<text x="304" y="160.4">9–10</text><text x="304" y="167">11–12</text><text x="304" y="173.6">13–14</text><text x="304" y="180.2">15–16</text>
</g>
</g>
<rect x="2" y="192" width="320" height="25" rx="2" fill="#fff" stroke="#e4e4e4" stroke-width="0.7"/>
<text x="6" y="199.5" font-size="6.3" font-weight="bold" fill="#808080">United States</text>
<g font-size="4.3">
<rect x="7" y="202.5" width="4" height="4" fill="#e6e6e6"/><text x="13" y="206" fill="#cfcfcf">Drought:</text><text x="81" y="206" fill="#bbb" text-anchor="end">--</text>
<rect x="85" y="202.5" width="4" height="4" fill="#e6e6e6"/><text x="91" y="206" fill="#cfcfcf">Flooding:</text><text x="159" y="206" fill="#bbb" text-anchor="end">--</text>
<rect x="163" y="202.5" width="4" height="4" fill="#e6e6e6"/><text x="169" y="206" fill="#cfcfcf">Freeze:</text><text x="237" y="206" fill="#bbb" text-anchor="end">--</text>
<rect x="241" y="202.5" width="4" height="4" fill="#e6e6e6"/><text x="247" y="206" fill="#cfcfcf">Severe Storm:</text><text x="318" y="206" fill="#bbb" text-anchor="end">--</text>
<rect x="7" y="208.5" width="4" height="4" fill="#e6e6e6"/><text x="13" y="212" fill="#cfcfcf">Tropical Cyclone:</text><text x="81" y="212" fill="#bbb" text-anchor="end">--</text>
<rect x="85" y="208.5" width="4" height="4" fill="#f88416"/><text x="91" y="212" fill="#444">Wildfire:</text><text x="159" y="212" fill="#444" text-anchor="end">18</text>
<rect x="163" y="208.5" width="4" height="4" fill="#e6e6e6"/><text x="169" y="212" fill="#cfcfcf">Winter Storm:</text><text x="237" y="212" fill="#bbb" text-anchor="end">--</text>
<rect x="241" y="208.5" width="4" height="4" fill="#c62828"/><text x="247" y="212" fill="#444">All Disasters:</text><text x="318" y="212" fill="#444" text-anchor="end">18</text>
</g>
</g>

<!-- ============ PANEL 6: SEVERE ============ -->
<g transform="translate(669,329)">
<rect x="0" y="0" width="322" height="220" fill="#fff"/>
<text x="2" y="10" font-size="8" fill="#333" textLength="227" lengthAdjust="spacingAndGlyphs">1980-2020 Billion-Dollar Severe Storm Disasters (CPI-Adjusted)</text>
<use href="#noaa" x="308" y="15"/>
<g transform="scale(0.3272,0.3333)" stroke="#b9c2b9" stroke-width="1.2">
<use href="#WA" fill="#e8f7ea"/><use href="#OR" fill="#e8f7ea"/><use href="#CA" fill="#e8f7ea"/><use href="#NV" fill="#e8f7ea"/>
<use href="#ID" fill="#fff"/><use href="#MT" fill="#e8f7ea"/><use href="#WY" fill="#e8f7ea"/><use href="#UT" fill="#e8f7ea"/>
<use href="#AZ" fill="#e8f7ea"/><use href="#CO" fill="#a3dfaa"/><use href="#NM" fill="#e8f7ea"/><use href="#ND" fill="#d1efd5"/>
<use href="#SD" fill="#bae7bf"/><use href="#NE" fill="#8cd795"/><use href="#KS" fill="#5ec76a"/><use href="#OK" fill="#5ec76a"/>
<use href="#TX" fill="#1db93a"/><use href="#MN" fill="#8cd795"/><use href="#IA" fill="#75cf80"/><use href="#MO" fill="#5ec76a"/>
<use href="#AR" fill="#8cd795"/><use href="#LA" fill="#a3dfaa"/><use href="#WI" fill="#a3dfaa"/><use href="#MIU" fill="#bae7bf"/>
<use href="#MIL" fill="#bae7bf"/><use href="#IL" fill="#47bf55"/><use href="#IN" fill="#75cf80"/><use href="#OH" fill="#8cd795"/>
<use href="#KY" fill="#8cd795"/><use href="#TN" fill="#75cf80"/><use href="#MS" fill="#8cd795"/><use href="#AL" fill="#8cd795"/>
<use href="#GA" fill="#75cf80"/><use href="#FL" fill="#bae7bf"/><use href="#SC" fill="#a3dfaa"/><use href="#NC" fill="#8cd795"/>
<use href="#VA" fill="#a3dfaa"/><use href="#WV" fill="#d1efd5"/><use href="#PA" fill="#8cd795"/><use href="#NY" fill="#a3dfaa"/>
<use href="#NJ" fill="#bae7bf"/><use href="#MD" fill="#bae7bf"/><use href="#DE" fill="#bae7bf"/><use href="#VT" fill="#d1efd5"/>
<use href="#NH" fill="#d1efd5"/><use href="#ME" fill="#d1efd5"/><use href="#MA" fill="#bae7bf"/><use href="#CT" fill="#bae7bf"/><use href="#RI" fill="#bae7bf"/>
<use href="#AK" fill="#fff" stroke="#999"/><use href="#EXT" stroke="#999"/>
</g>
<g>
<rect x="291" y="115" width="29" height="71" rx="2" fill="#fff" stroke="#e2e2e2" stroke-width="0.6"/>
<text x="305.5" y="121" font-size="4.5" fill="#555" text-anchor="middle"># Events</text>
<rect x="294" y="125" width="5" height="6.6" fill="#e8f7ea"/><rect x="294" y="131.6" width="5" height="6.6" fill="#d1efd5"/>
<rect x="294" y="138.2" width="5" height="6.6" fill="#bae7bf"/><rect x="294" y="144.8" width="5" height="6.6" fill="#a3dfaa"/>
<rect x="294" y="151.4" width="5" height="6.6" fill="#8cd795"/><rect x="294" y="158" width="5" height="6.6" fill="#75cf80"/>
<rect x="294" y="164.6" width="5" height="6.6" fill="#5ec76a"/><rect x="294" y="171.2" width="5" height="6.6" fill="#47bf55"/>
<rect x="294" y="177.8" width="5" height="6.6" fill="#1db93a"/>
<g font-size="4.2" fill="#777">
<text x="302" y="130">1–8</text><text x="302" y="136.6">9–16</text><text x="302" y="143.2">17–24</text><text x="302" y="149.8">25–32</text>
<text x="302" y="156.4">33–40</text><text x="302" y="163">41–48</text><text x="302" y="169.6">49–56</text><text x="302" y="176.2">57–64</text><text x="302" y="182.8">65+</text>
</g>
</g>
<rect x="2" y="191" width="318" height="25" rx="2" fill="#fff" stroke="#e4e4e4" stroke-width="0.7"/>
<text x="6" y="198.5" font-size="6.3" font-weight="bold" fill="#808080">United States</text>
<g font-size="4.3">
<rect x="7" y="201.5" width="4" height="4" fill="#e6e6e6"/><text x="13" y="205" fill="#cfcfcf">Drought:</text><text x="80" y="205" fill="#bbb" text-anchor="end">--</text>
<rect x="84" y="201.5" width="4" height="4" fill="#e6e6e6"/><text x="90" y="205" fill="#cfcfcf">Flooding:</text><text x="158" y="205" fill="#bbb" text-anchor="end">--</text>
<rect x="162" y="201.5" width="4" height="4" fill="#e6e6e6"/><text x="168" y="205" fill="#cfcfcf">Freeze:</text><text x="235" y="205" fill="#bbb" text-anchor="end">--</text>
<rect x="239" y="201.5" width="4" height="4" fill="#1db93a"/><text x="245" y="205" fill="#444">Severe Storm:</text><text x="316" y="205" fill="#444" text-anchor="end">128</text>
<rect x="7" y="207.5" width="4" height="4" fill="#e6e6e6"/><text x="13" y="211" fill="#cfcfcf">Tropical Cyclone:</text><text x="80" y="211" fill="#bbb" text-anchor="end">--</text>
<rect x="84" y="207.5" width="4" height="4" fill="#e6e6e6"/><text x="90" y="211" fill="#cfcfcf">Wildfire:</text><text x="158" y="211" fill="#bbb" text-anchor="end">--</text>
<rect x="162" y="207.5" width="4" height="4" fill="#e6e6e6"/><text x="168" y="211" fill="#cfcfcf">Winter Storm:</text><text x="235" y="211" fill="#bbb" text-anchor="end">--</text>
<rect x="239" y="207.5" width="4" height="4" fill="#c62828"/><text x="245" y="211" fill="#444">All Disasters:</text><text x="316" y="211" fill="#444" text-anchor="end">128</text>
</g>
</g>

<!-- bottom notes -->
<text x="15" y="568" font-size="15" fill="#fff" textLength="905" lengthAdjust="spacingAndGlyphs">*<tspan font-weight="bold">285</tspan> weather and climate disasters reached or exceeded $1 billion during this period (CPI-adjusted); cost &gt; $<tspan font-weight="bold">1.875 trillion in damages</tspan></text>
<rect x="690" y="570" width="230" height="1.2" fill="#fff"/>
<text x="12" y="590" font-size="13" font-style="italic" fill="#fff" textLength="939" lengthAdjust="spacingAndGlyphs">Please note that the map reflects a summation of billion-dollar events for each state affected (i.e., it does not mean that each state shown suffered at least</text>
<text x="12" y="606" font-size="13" font-style="italic" fill="#fff" textLength="197" lengthAdjust="spacingAndGlyphs">$1 billion in losses for each event).</text>
</svg>
</body></html>
